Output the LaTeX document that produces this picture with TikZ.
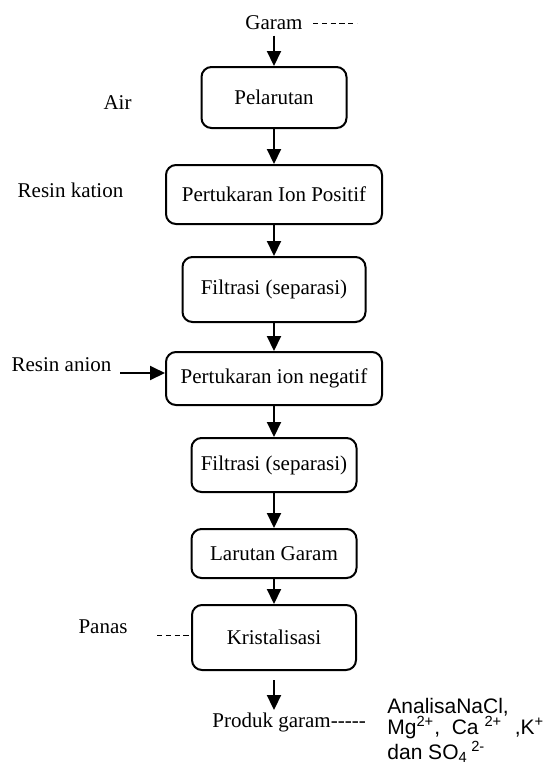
\documentclass[tikz,border=0pt]{standalone}
\usepackage{fontspec}
\setmainfont{Liberation Serif}
\newfontfamily\arialfont{Liberation Sans}
\usepackage{tikz}
\usetikzlibrary{arrows.meta}
\tikzset{proses/.style={
    draw=black,
    line width=1pt,
    rounded corners=5pt,
    inner sep=2pt,
    font=\fontsize{10.5}{12}\selectfont}}
\tikzset{teks/.style={
    inner sep=1pt,
    font=\fontsize{10.5}{12}\selectfont}}
\tikzset{panah/.style={
    line width=1pt,
    -{Triangle[length=7.5pt,width=7pt]}}}
\tikzset{putus/.style={
    line width=0.5pt,
    dash pattern=on 2.6pt off 1.8pt}}

\begin{document}
\begin{tikzpicture}[x=0.5pt,y=-0.5pt]
	\useasboundingbox (0,0) rectangle (549,768);
\coordinate (P1) at (274,97.5);
\coordinate (P2) at (274,194.5);
\coordinate (P3) at (274,289.5);
\coordinate (P4) at (274,378.5);
\coordinate (P5) at (274,465);
\coordinate (P6) at (274,553.5);
\coordinate (P7) at (274,637.5);
\coordinate (anion) at (120,373);

\node[proses,minimum width=72.5pt,minimum height=30.5pt] (pelarutan) at (P1) {Pelarutan};
\node[proses,minimum width=108pt,minimum height=29.5pt] (positif) at (P2) {Pertukaran Ion Positif};
\node[proses,minimum width=91.5pt,minimum height=32.5pt] (filtrasiA) at (P3) {Filtrasi (separasi)};
\node[proses,minimum width=108pt,minimum height=26.5pt] (negatif) at (P4) {Pertukaran ion negatif};
\node[proses,minimum width=82.5pt,minimum height=27pt] (filtrasiB) at (P5) {Filtrasi (separasi)};
\node[proses,minimum width=82.5pt,minimum height=24.5pt] (larutan) at (P6) {Larutan Garam};
\node[proses,minimum width=82pt,minimum height=32.5pt] (kristal) at (P7) {Kristalisasi};

% bahan masuk
\node[teks,anchor=base] (garam) at (274,29) {Garam};
\node[teks,anchor=base] (air) at (117.5,109) {Air};
\node[teks,anchor=base] (rkation) at (70.5,197) {Resin kation};
\node[teks,anchor=base] (ranion) at (61.5,371) {Resin anion};
\node[teks,anchor=base] (panas) at (103,633) {Panas};
\node[teks,anchor=base west] (produk) at (210,727) {Produk garam-{}-{}-{}-{}-};
\node[teks,anchor=base west,align=left,font=\arialfont\fontsize{10.5}{10.5}\selectfont] (analisa) at (385,759)
  {AnalisaNaCl,\\ Mg\textsuperscript{2+},\ \ Ca \textsuperscript{2+}\hspace{0.6em},K\textsuperscript{+}\\ dan SO\textsubscript{4}\,\textsuperscript{2-}};
\coordinate (hasil) at ([yshift=-4.5pt]kristal.south);

\draw[putus] (313,23) -- (357,23);
\draw[putus] (157,635) -- (kristal.west |- 0,635);

\draw[panah,shorten <=2pt] (garam) -- (pelarutan);
\draw[panah] (pelarutan) -- (positif);
\draw[panah] (positif) -- (filtrasiA);
\draw[panah] (filtrasiA) -- (negatif);
\draw[panah] (negatif) -- (filtrasiB);
\draw[panah] (filtrasiB) -- (larutan);
\draw[panah] (larutan) -- (kristal);
\draw[panah] (anion) -- (anion -| negatif.west);
\draw[panah] (hasil) -- (hasil |- produk.north);
\end{tikzpicture}
\end{document}
